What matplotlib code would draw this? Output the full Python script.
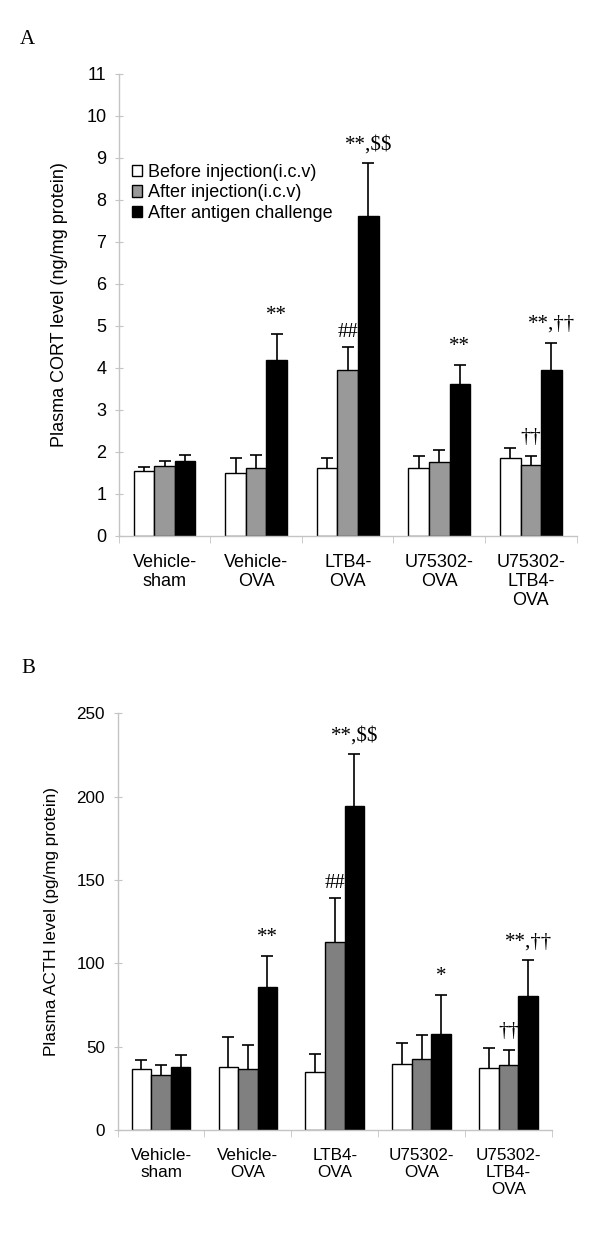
import numpy as np
import matplotlib
matplotlib.use('Agg')
import matplotlib.pyplot as plt

plt.rcParams['font.family'] = ['Liberation Sans', 'DejaVu Sans']

groups = ['Vehicle-\nsham', 'Vehicle-\nOVA', 'LTB4-\nOVA', 'U75302-\nOVA', 'U75302-\nLTB4-\nOVA']
series = ['Before injection(i.c.v)', 'After injection(i.c.v)', 'After antigen challenge']

# panel A: CORT (ng/mg protein)
cort_before = [1.54, 1.50, 1.62, 1.62, 1.86]
cort_before_err = [0.10, 0.35, 0.24, 0.28, 0.23]
cort_inj = [1.66, 1.62, 3.95, 1.76, 1.70]
cort_inj_err = [0.13, 0.31, 0.55, 0.29, 0.20]
cort_chal = [1.79, 4.20, 7.63, 3.62, 3.95]
cort_chal_err = [0.14, 0.60, 1.24, 0.45, 0.65]
cort_sig_inj = ['', '', '##', '', '\u2020\u2020']
cort_sig_chal = ['', '**', '**,$$', '**', '**,\u2020\u2020']

# panel B: ACTH (pg/mg protein)
acth_before = [36.5, 38.0, 35.0, 39.7, 37.2]
acth_before_err = [5.5, 18.0, 10.8, 12.3, 11.8]
acth_inj = [32.8, 36.5, 113.0, 42.8, 39.0]
acth_inj_err = [6.2, 14.8, 26.4, 14.2, 9.0]
acth_chal = [38.1, 86.0, 194.2, 57.6, 80.4]
acth_chal_err = [6.9, 18.3, 31.2, 23.4, 21.6]
acth_sig_inj = ['', '', '##', '', '\u2020\u2020']
acth_sig_chal = ['', '**', '**,$$', '*', '**,\u2020\u2020']

fig = plt.figure(figsize=(6, 12.33), dpi=100)

spine_col = '#c4c4c4'
width = 0.225


def draw_panel(ax, vals, errs, sigs, gray, ymax, ystep, ylabel, fs):
    x = np.arange(len(groups))
    colors = ['white', gray, 'black']
    for i, (v, e) in enumerate(zip(vals, errs)):
        xs = x + (i - 1) * width
        ax.bar(xs, v, width, color=colors[i], edgecolor='black', linewidth=1.0,
               label=series[i], zorder=2)
        eb = ax.errorbar(xs, v, yerr=[np.zeros(len(v)), e], fmt='none', ecolor='black',
                         elinewidth=1.2, capsize=4, capthick=1.2, zorder=1)
        eb[1][0].set_visible(False)  # no lower cap
        if sigs[i] is None:
            continue
        for xx, vv, ee, s in zip(xs, v, e, sigs[i]):
            if s:
                off = 7 if s.startswith('#') else 10
                ax.annotate(s, (xx, vv + ee), xytext=(0, off), textcoords='offset points',
                            ha='center', va='baseline', fontsize=15, parse_math=False,
                            family='Liberation Serif', zorder=1.5)
    ax.set_xlim(-0.5, len(groups) - 0.5)
    ax.set_ylim(0, ymax)
    ax.set_yticks(np.arange(0, ymax + ystep / 2, ystep))
    ax.set_xticks(x)
    ax.set_xticklabels(groups, fontsize=fs, linespacing=1.15)
    ax.set_xticks(np.arange(-0.5, len(groups)), minor=True)
    ax.tick_params(axis='x', which='major', length=0, pad=13)
    ax.tick_params(axis='x', which='minor', length=5, color=spine_col, direction='out')
    ax.tick_params(axis='y', length=6, color=spine_col, direction='inout', labelsize=fs, pad=6)
    for sp in ['top', 'right']:
        ax.spines[sp].set_visible(False)
    for sp in ['left', 'bottom']:
        ax.spines[sp].set_color(spine_col)
        ax.spines[sp].set_linewidth(1.0)
    ax.set_ylabel(ylabel, fontsize=fs, labelpad=13)


axA = fig.add_axes([0.198, 0.5653, 0.763, 0.3747])
draw_panel(axA, [cort_before, cort_inj, cort_chal],
           [cort_before_err, cort_inj_err, cort_chal_err],
           [None, cort_sig_inj, cort_sig_chal], '#999999', 11, 1,
           'Plasma CORT level (ng/mg protein)', 13)
axA.legend(loc='upper left', bbox_to_anchor=(0.028, 0.806), frameon=False, fontsize=13,
           handlelength=0.6, handleheight=0.6, handletextpad=0.3, labelspacing=0.2,
           borderpad=0, borderaxespad=0)

axB = fig.add_axes([0.196, 0.0835, 0.724, 0.338])
draw_panel(axB, [acth_before, acth_inj, acth_chal],
           [acth_before_err, acth_inj_err, acth_chal_err],
           [None, acth_sig_inj, acth_sig_chal], '#808080', 250, 50,
           'Plasma ACTH level (pg/mg protein)', 12.3)

fig.text(20 / 600, 1 - 44 / 1233, 'A', fontsize=15, family='Liberation Serif', va='baseline')
fig.text(21 / 600, 1 - 673 / 1233, 'B', fontsize=15, family='Liberation Serif', va='baseline')

fig.savefig('out.png', dpi=100)
